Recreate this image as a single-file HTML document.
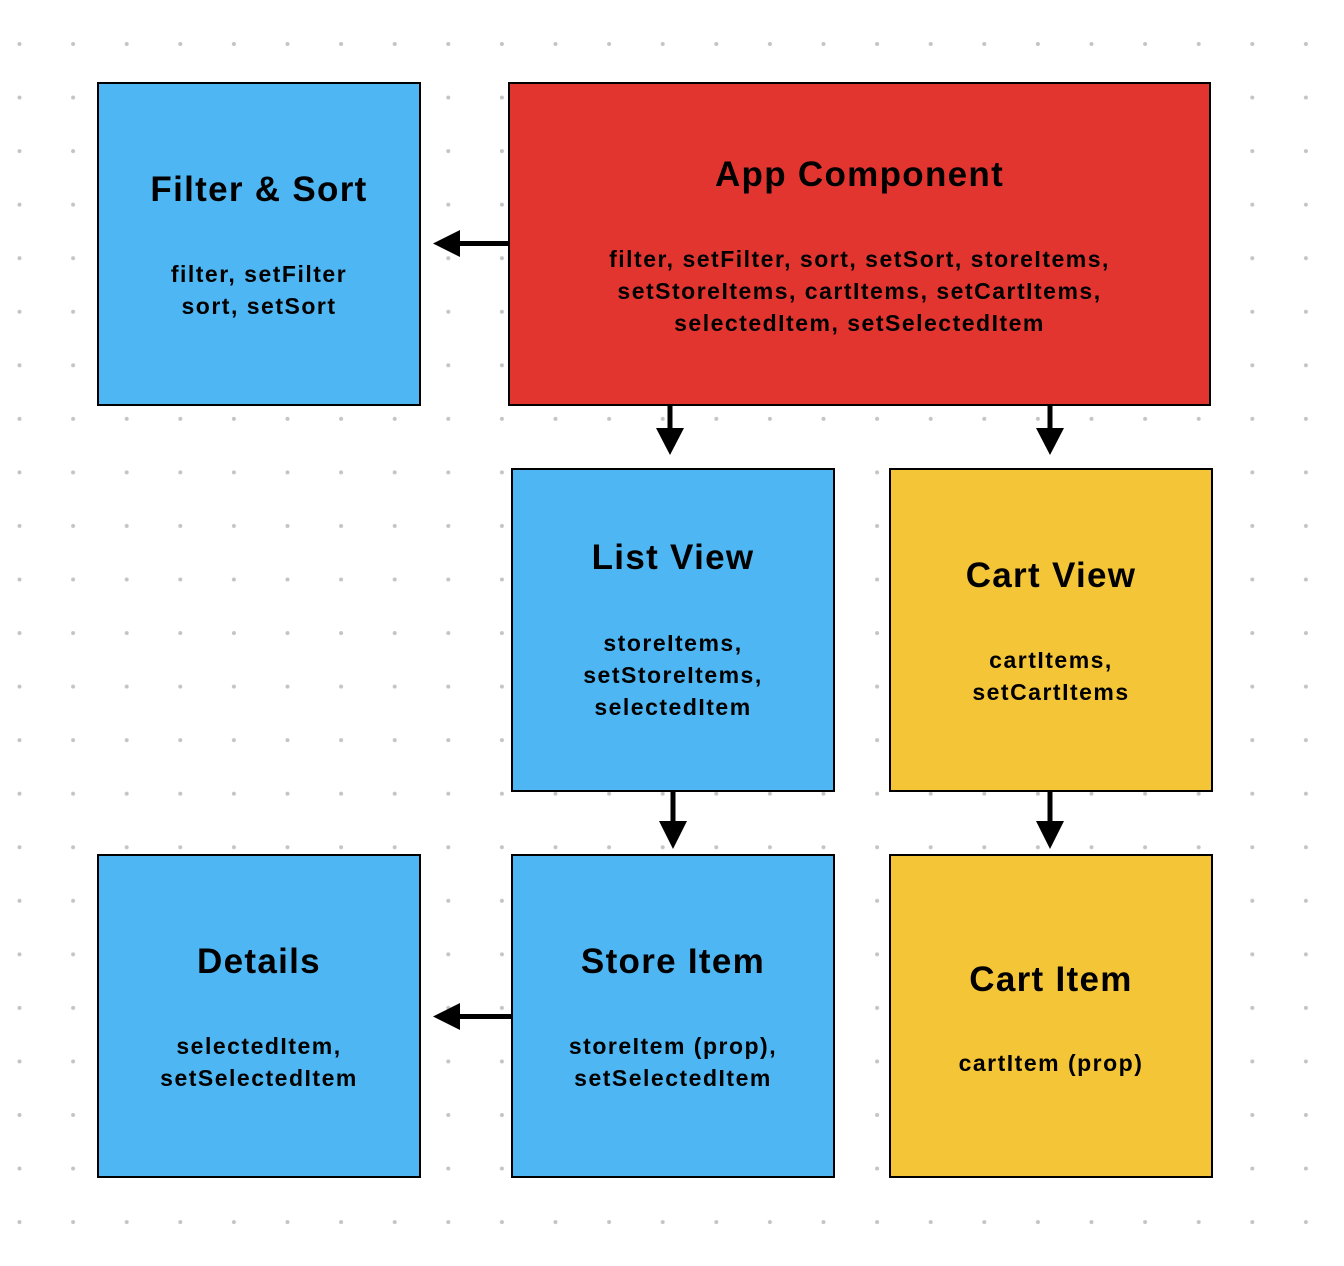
<!DOCTYPE html>
<html><head><style>
body{margin:0;width:1344px;height:1266px;position:relative;background:#fff;font-family:"Liberation Sans",sans-serif;overflow:hidden}
.b{position:absolute;border:2px solid #000;box-sizing:border-box}
.t{position:absolute;left:-40px;right:-40px;text-align:center;color:#000;white-space:nowrap}
.h{font-size:35px;font-weight:bold;line-height:40px;letter-spacing:1.3px}
.p{font-size:23px;font-weight:bold;line-height:32px;letter-spacing:1.5px}
</style></head><body>
<svg width="1344" height="1266" style="position:absolute;left:0;top:0">
<defs><pattern id="d" x="19.5" y="44" width="53.6" height="53.55" patternUnits="userSpaceOnUse"><circle cx="0" cy="0" r="2" fill="#c4c4c4"/><circle cx="53.6" cy="0" r="2" fill="#c4c4c4"/><circle cx="0" cy="53.55" r="2" fill="#c4c4c4"/><circle cx="53.6" cy="53.55" r="2" fill="#c4c4c4"/></pattern></defs>
<rect x="0" y="0" width="1344" height="1266" fill="url(#d)"/>
<g fill="#000">
<rect x="458" y="241" width="52" height="5"/><polygon points="433,243.5 460,230 460,257"/>
<rect x="458" y="1014" width="54" height="5"/><polygon points="433,1016.5 460,1003 460,1030"/>
<rect x="667.5" y="405" width="5" height="25"/><polygon points="670,455 656,428 684,428"/>
<rect x="1047.5" y="405" width="5" height="25"/><polygon points="1050,455 1036,428 1064,428"/>
<rect x="670.5" y="791" width="5" height="32"/><polygon points="673,849 659,821 687,821"/>
<rect x="1047.5" y="791" width="5" height="32"/><polygon points="1050,849 1036,821 1064,821"/>
</g></svg>
<div class="b" style="left:97px;top:82px;width:324px;height:324px;background:#4DB6F3">
<div class="t h" style="top:86px">Filter &amp; Sort</div>
<div class="t p" style="top:174px">filter, setFilter<br>sort, setSort</div></div>
<div class="b" style="left:508px;top:82px;width:703px;height:324px;background:#E33530">
<div class="t h" style="top:71px">App Component</div>
<div class="t p" style="top:159px">filter, setFilter, sort, setSort, storeItems,<br>setStoreItems, cartItems, setCartItems,<br>selectedItem, setSelectedItem</div></div>
<div class="b" style="left:511px;top:468px;width:324px;height:324px;background:#4DB6F3">
<div class="t h" style="top:68px">List View</div>
<div class="t p" style="top:157px">storeItems,<br>setStoreItems,<br>selectedItem</div></div>
<div class="b" style="left:889px;top:468px;width:324px;height:324px;background:#F4C536">
<div class="t h" style="top:86px">Cart View</div>
<div class="t p" style="top:174px">cartItems,<br>setCartItems</div></div>
<div class="b" style="left:97px;top:854px;width:324px;height:324px;background:#4DB6F3">
<div class="t h" style="top:86px">Details</div>
<div class="t p" style="top:174px">selectedItem,<br>setSelectedItem</div></div>
<div class="b" style="left:511px;top:854px;width:324px;height:324px;background:#4DB6F3">
<div class="t h" style="top:86px">Store Item</div>
<div class="t p" style="top:174px">storeItem (prop),<br>setSelectedItem</div></div>
<div class="b" style="left:889px;top:854px;width:324px;height:324px;background:#F4C536">
<div class="t h" style="top:104px">Cart Item</div>
<div class="t p" style="top:191px">cartItem (prop)</div></div>
</body></html>
